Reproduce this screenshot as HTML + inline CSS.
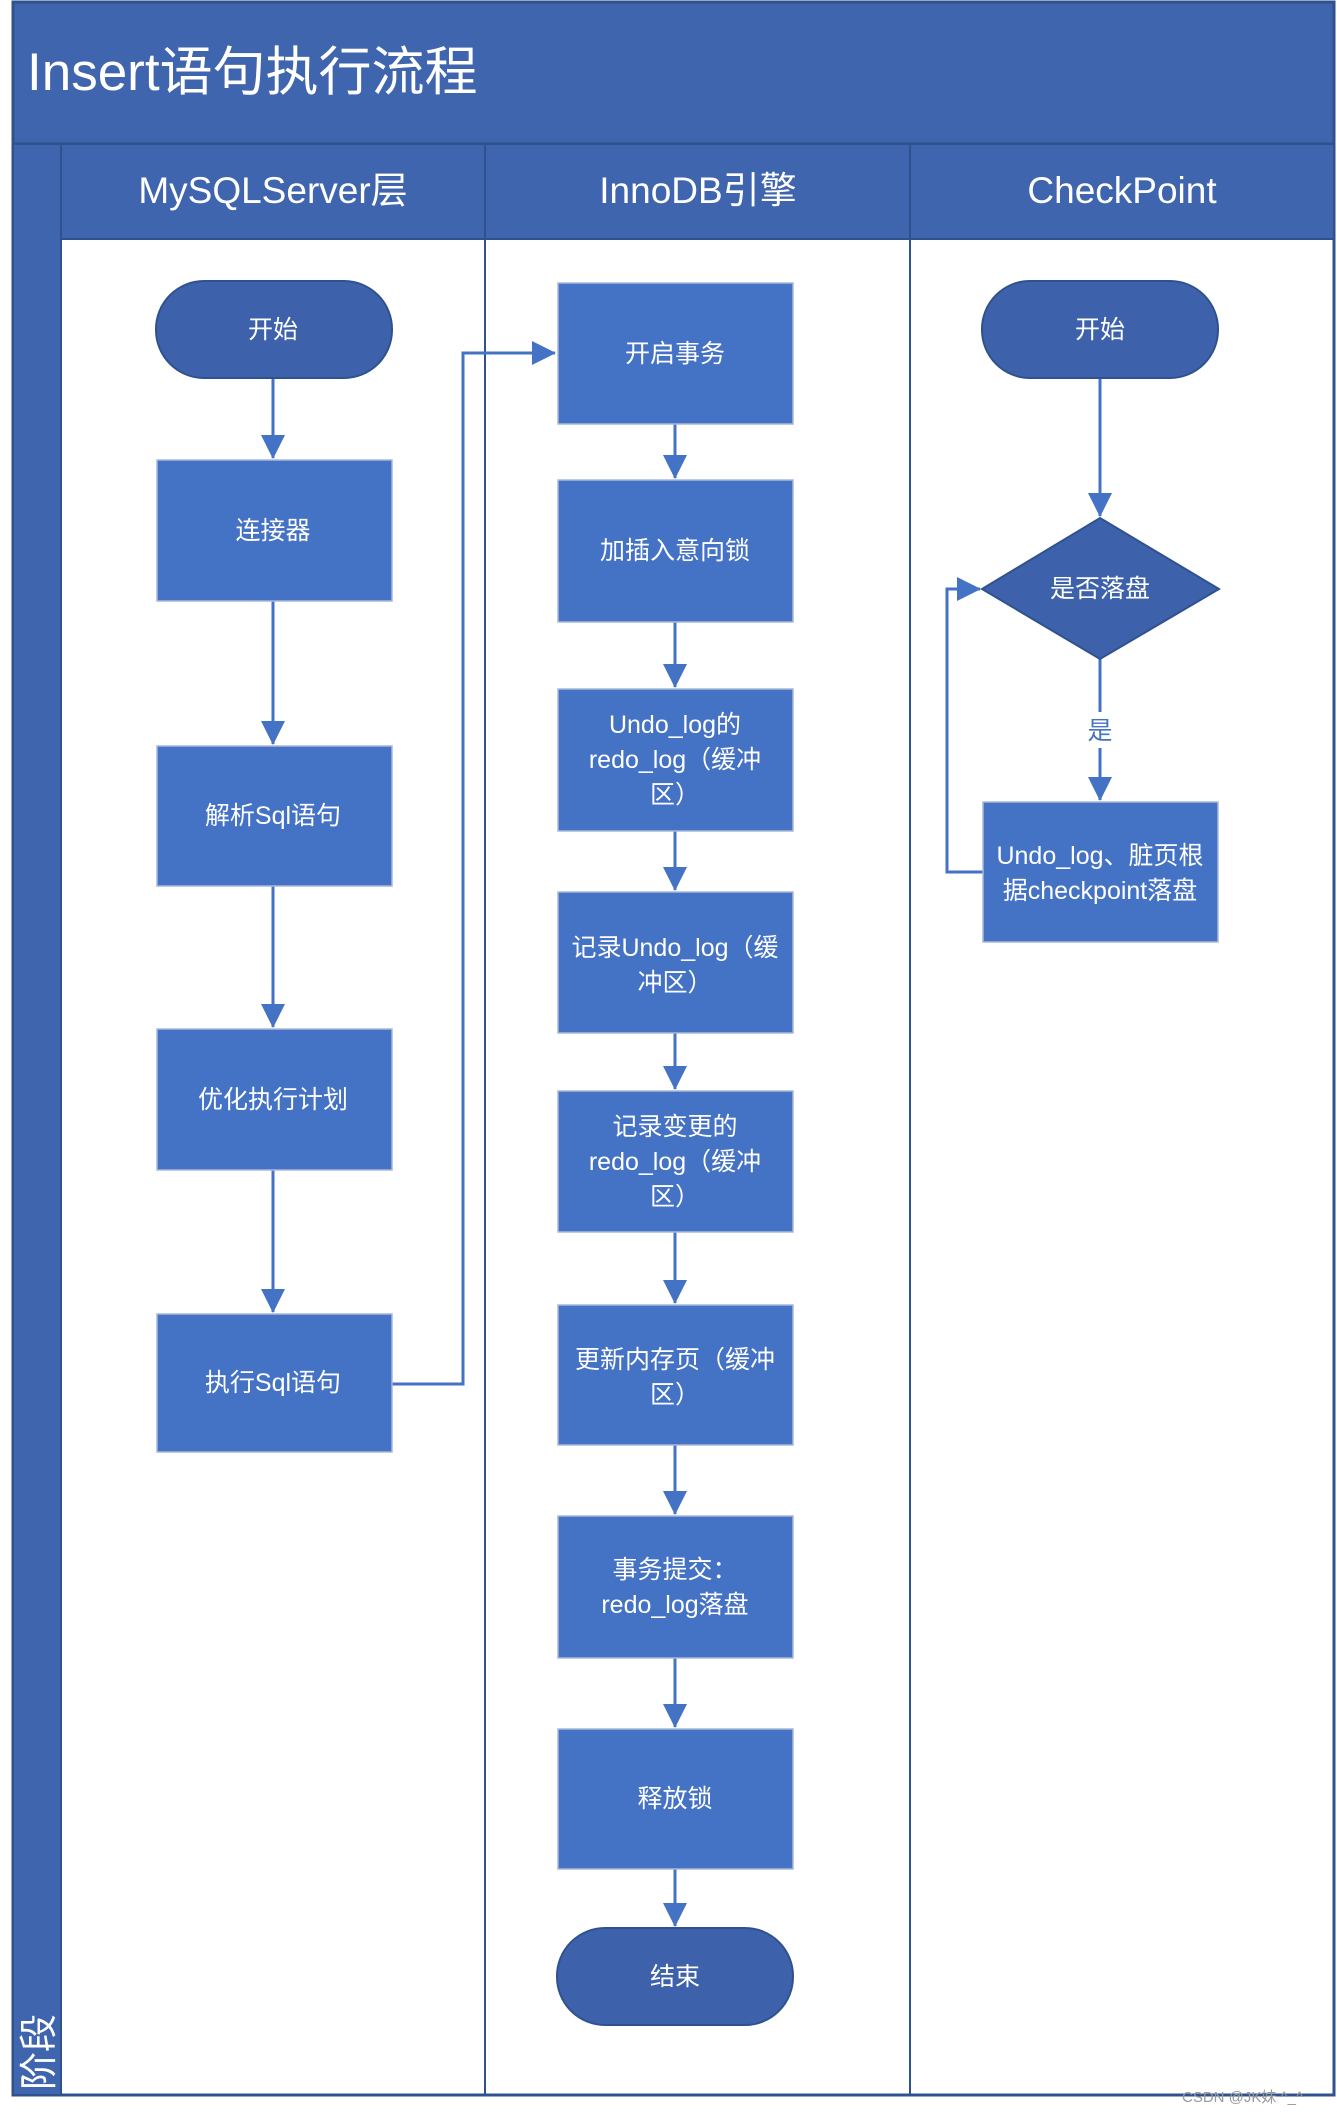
<!DOCTYPE html>
<html><head><meta charset="utf-8"><style>
html,body{margin:0;padding:0;background:#fff}
svg text{font-family:"Liberation Sans","Noto Sans CJK SC",sans-serif;fill:#fff}
</style></head><body>
<svg width="1337" height="2109" viewBox="0 0 1337 2109" xmlns="http://www.w3.org/2000/svg">
<defs>
<marker id="b" markerWidth="24" markerHeight="24" refX="23" refY="12" orient="auto" markerUnits="userSpaceOnUse" viewBox="0 0 24 24"><path d="M0,0 L24,12 L0,24 z" fill="#4472C4"/></marker></defs>
<rect x="13" y="2" width="1321" height="2093" fill="#fff" stroke="#2F528F" stroke-width="3"/>
<rect x="13" y="2" width="1321" height="142" fill="#3F65AE" stroke="#2F528F" stroke-width="3"/>
<text x="27" y="90" font-size="53">Insert语句执行流程</text>
<rect x="13" y="144" width="48" height="1951" fill="#3F65AE" stroke="#2F528F" stroke-width="2"/>
<rect x="61" y="144" width="1273" height="95" fill="#3F65AE" stroke="#2F528F" stroke-width="2"/>
<line x1="485" y1="144" x2="485" y2="2095" stroke="#2F528F" stroke-width="2"/>
<line x1="910" y1="144" x2="910" y2="2095" stroke="#2F528F" stroke-width="2"/>
<line x1="61" y1="239" x2="61" y2="2095" stroke="#2F528F" stroke-width="2"/>
<text x="273" y="203" font-size="37" text-anchor="middle">MySQLServer层</text>
<text x="698" y="203" font-size="37" text-anchor="middle">InnoDB引擎</text>
<text x="1122" y="203" font-size="37" text-anchor="middle">CheckPoint</text>
<text transform="translate(52,2090) rotate(-90)" font-size="38">阶段</text>
<g fill="none" stroke="#4472C4" stroke-width="3">
<line x1="273" y1="378" x2="273" y2="458" marker-end="url(#b)"/>
<line x1="273" y1="601" x2="273" y2="744" marker-end="url(#b)"/>
<line x1="273" y1="886" x2="273" y2="1027" marker-end="url(#b)"/>
<line x1="273" y1="1170" x2="273" y2="1312" marker-end="url(#b)"/>
<polyline points="392,1384 463,1384 463,353 555,353" marker-end="url(#b)"/>
<line x1="675" y1="424" x2="675" y2="478" marker-end="url(#b)"/>
<line x1="675" y1="622" x2="675" y2="687" marker-end="url(#b)"/>
<line x1="675" y1="831" x2="675" y2="890" marker-end="url(#b)"/>
<line x1="675" y1="1033" x2="675" y2="1089" marker-end="url(#b)"/>
<line x1="675" y1="1232" x2="675" y2="1303" marker-end="url(#b)"/>
<line x1="675" y1="1445" x2="675" y2="1514" marker-end="url(#b)"/>
<line x1="675" y1="1658" x2="675" y2="1727" marker-end="url(#b)"/>
<line x1="675" y1="1869" x2="675" y2="1926" marker-end="url(#b)"/>
<line x1="1100" y1="378" x2="1100" y2="516" marker-end="url(#b)"/>
<line x1="1100" y1="659" x2="1100" y2="712"/>
<line x1="1100" y1="748" x2="1100" y2="800" marker-end="url(#b)"/>
<polyline points="983,872 947,872 947,589 980,589" marker-end="url(#b)"/>
</g>
<g fill="#3D62AB" stroke="#2F528F" stroke-width="2">
<rect x="156" y="281" width="236" height="97" rx="48"/>
<rect x="982" y="281" width="236" height="97" rx="48"/>
<rect x="557" y="1928" width="236" height="97" rx="48"/>
<polygon points="1100,518 1219,589 1100,659 982,589"/>
</g>
<g fill="#4472C4" stroke="#A9B8D8" stroke-width="1.5">
<rect x="157" y="460" width="235" height="141"/>
<rect x="157" y="746" width="235" height="140"/>
<rect x="157" y="1029" width="235" height="141"/>
<rect x="157" y="1314" width="235" height="138"/>
<rect x="558" y="283" width="235" height="141"/>
<rect x="558" y="480" width="235" height="142"/>
<rect x="558" y="689" width="235" height="142"/>
<rect x="558" y="892" width="235" height="141"/>
<rect x="558" y="1091" width="235" height="141"/>
<rect x="558" y="1305" width="235" height="140"/>
<rect x="558" y="1516" width="235" height="142"/>
<rect x="558" y="1729" width="235" height="140"/>
<rect x="983" y="802" width="235" height="140"/>
</g>
<g font-size="25" text-anchor="middle">
<text x="273" y="338">开始</text>
<text x="1100" y="338">开始</text>
<text x="675" y="1985">结束</text>
<text x="1100" y="597">是否落盘</text>
<text x="273" y="539">连接器</text>
<text x="273" y="824">解析Sql语句</text>
<text x="273" y="1108">优化执行计划</text>
<text x="273" y="1391">执行Sql语句</text>
<text x="675" y="362">开启事务</text>
<text x="675" y="559">加插入意向锁</text>
<text x="675" y="733">Undo_log的</text>
<text x="675" y="768">redo_log（缓冲</text>
<text x="675" y="803">区）</text>
<text x="675" y="956">记录Undo_log（缓</text>
<text x="675" y="991">冲区）</text>
<text x="675" y="1135">记录变更的</text>
<text x="675" y="1170">redo_log（缓冲</text>
<text x="675" y="1205">区）</text>
<text x="675" y="1368">更新内存页（缓冲</text>
<text x="675" y="1403">区）</text>
<text x="675" y="1578">事务提交：</text>
<text x="675" y="1613">redo_log落盘</text>
<text x="675" y="1807">释放锁</text>
<text x="1100" y="864">Undo_log、脏页根</text>
<text x="1100" y="899">据checkpoint落盘</text>
<text x="1100" y="739" style="fill:#4472C4">是</text>
</g>
<text x="1182" y="2102" font-size="15" style="fill:#999">CSDN @JK妹 ^_^</text>
</svg>
</body></html>
